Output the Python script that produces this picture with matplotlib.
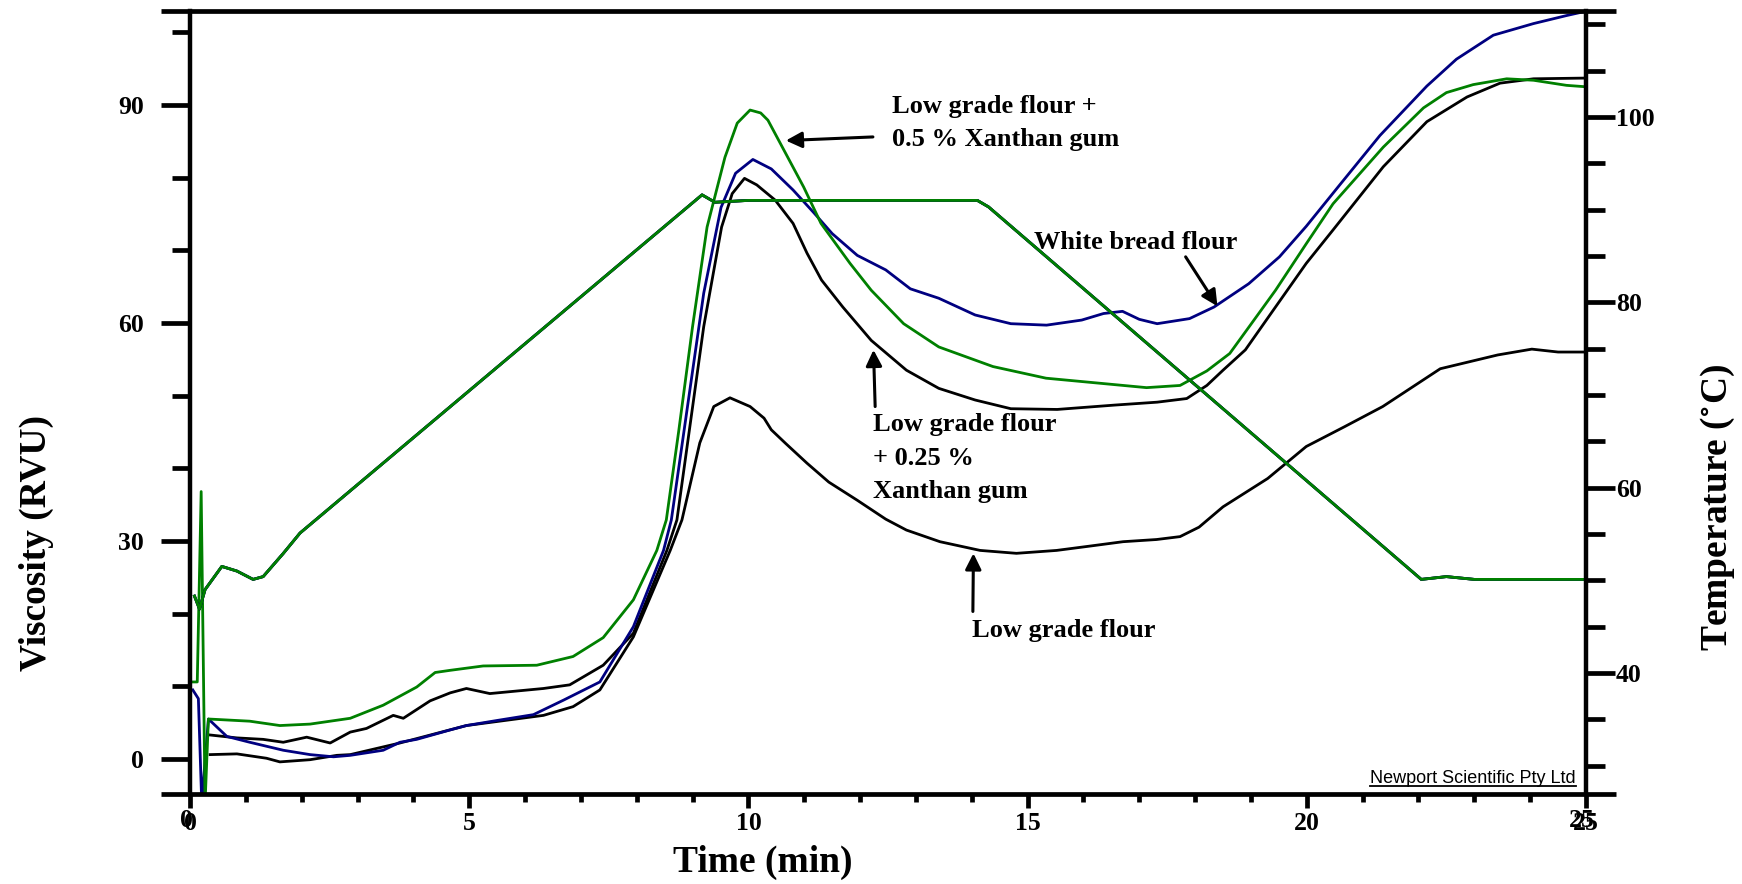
import numpy as np
import matplotlib.pyplot as plt
from matplotlib.ticker import MultipleLocator, FixedLocator
from matplotlib.lines import Line2D
import matplotlib.transforms as mtransforms

plt.rcParams['font.family'] = ['Liberation Serif', 'DejaVu Serif']
plt.rcParams['font.weight'] = 'bold'
plt.rcParams['mathtext.fontset'] = 'stix'

NAVY = '#000080'
GREEN = '#008000'

# --- viscosity (RVU) readings ---
t_white = [0.05, 0.15, 0.21, 0.33, 0.66, 1.07, 1.67, 2.15, 2.57, 2.87, 3.46, 3.76, 4.06, 4.66,
           4.95, 5.5, 6.15, 6.69, 7.34, 7.94, 8.48, 8.62, 8.9, 9.2, 9.51, 9.77, 10.08, 10.41,
           10.8, 11.18, 11.5, 11.95, 12.46, 12.9, 13.41, 14.06, 14.7, 15.34, 15.97, 16.36,
           16.7, 17.0, 17.32, 17.9, 18.34, 18.96, 19.51, 19.99, 20.59, 21.31, 22.15, 22.68,
           23.34, 24.06, 24.65, 25.0]
v_white = [9.5, 8.3, -6, 5.5, 3.1, 2.3, 1.2, 0.6, 0.3, 0.5, 1.2, 2.3, 2.7, 4.0,
           4.6, 5.3, 6.1, 8.1, 10.6, 18.2, 28.7, 32.9, 48.0, 64.1, 75.9, 80.6, 82.5, 81.2,
           78.3, 75.1, 72.3, 69.3, 67.3, 64.7, 63.4, 61.1, 59.9, 59.7, 60.4, 61.3,
           61.6, 60.5, 59.9, 60.6, 62.2, 65.4, 69.1, 73.3, 79.0, 85.8, 92.6, 96.3,
           99.6, 101.2, 102.3, 102.9]

t_xg05 = [0.05, 0.13, 0.2, 0.27, 0.33, 1.07, 1.61, 2.15, 2.87, 3.46, 4.06, 4.39, 4.66, 5.25,
          6.21, 6.86, 7.4, 7.94, 8.36, 8.53, 8.75, 9.0, 9.26, 9.58, 9.8, 10.03, 10.22, 10.35,
          10.67, 10.99, 11.3, 11.82, 12.2, 12.78, 13.41, 14.38, 15.33, 16.3, 17.13, 17.73,
          18.21, 18.62, 18.96, 19.44, 19.99, 20.47, 21.37, 22.09, 22.5, 22.98, 23.58, 24.06,
          24.65, 25.0]
v_xg05 = [10.6, 10.6, 36.8, -6, 5.5, 5.2, 4.6, 4.8, 5.6, 7.4, 9.9, 11.9, 12.2, 12.8,
          12.9, 14.1, 16.7, 21.9, 28.7, 32.9, 45.0, 59.5, 73.2, 82.8, 87.5, 89.3, 88.9, 87.9,
          83.3, 78.7, 73.7, 68.2, 64.5, 59.9, 56.7, 54.0, 52.4, 51.7, 51.1, 51.4,
          53.4, 55.8, 59.4, 64.5, 70.9, 76.4, 84.2, 89.6, 91.7, 92.8, 93.6, 93.4,
          92.7, 92.5]

t_xg025 = [0.36, 0.84, 1.31, 1.67, 2.09, 2.51, 2.87, 3.16, 3.64, 3.82, 4.3, 4.66, 4.95, 5.37,
           6.33, 6.8, 7.4, 7.94, 8.54, 8.72, 9.2, 9.52, 9.71, 9.93, 10.15, 10.48, 10.8, 11.05,
           11.31, 11.69, 12.2, 12.83, 13.41, 14.06, 14.7, 15.53, 16.56, 17.32, 17.85, 18.21,
           18.5, 18.9, 19.44, 19.99, 20.47, 21.37, 22.15, 22.87, 23.46, 24.06, 25.0]
v_xg025 = [3.3, 2.9, 2.7, 2.3, 3.0, 2.2, 3.7, 4.2, 6.0, 5.6, 8.0, 9.1, 9.7, 9.0,
           9.7, 10.2, 12.9, 17.3, 28.7, 32.9, 59.5, 73.2, 77.8, 79.9, 79.0, 76.9, 73.7, 69.6,
           65.9, 62.2, 57.6, 53.5, 51.0, 49.4, 48.2, 48.1, 48.7, 49.1, 49.6, 51.4,
           53.5, 56.3, 62.2, 68.2, 72.8, 81.5, 87.7, 91.1, 93.0, 93.6, 93.7]

t_low = [0.36, 0.84, 1.37, 1.61, 2.15, 2.63, 2.87, 3.76, 4.95, 6.33, 6.86, 7.34, 7.94, 8.6,
         8.81, 9.13, 9.38, 9.67, 10.03, 10.28, 10.41, 10.67, 11.05, 11.44, 11.95, 12.46, 12.83,
         13.43, 14.15, 14.8, 15.52, 16.12, 16.71, 17.31, 17.73, 18.07, 18.5, 19.3, 19.99,
         20.67, 21.36, 22.39, 23.42, 24.03, 24.5, 25.0]
v_low = [0.6, 0.7, 0.1, -0.4, -0.1, 0.5, 0.6, 2.2, 4.6, 6.0, 7.2, 9.5, 16.8, 28.7,
         32.9, 43.5, 48.5, 49.7, 48.5, 46.9, 45.3, 43.4, 40.7, 38.1, 35.6, 33.0, 31.5,
         29.9, 28.7, 28.3, 28.7, 29.3, 29.9, 30.2, 30.6, 31.9, 34.7, 38.6, 43.0,
         45.7, 48.5, 53.7, 55.6, 56.4, 56.0, 56.0]

# --- temperature profile (deg C) ---
t_temp = [0.08, 0.17, 0.27, 0.57, 0.84, 1.13, 1.31, 1.67, 1.97, 9.17, 9.4, 9.7, 10.0,
          14.1, 14.3, 22.05, 22.5, 23.0, 25.0]
v_temp = [48.3, 46.9, 49.0, 51.5, 51.0, 50.1, 50.4, 52.9, 55.1, 91.6, 90.8, 90.9, 91.0,
          91.0, 90.3, 50.1, 50.4, 50.1, 50.1]

rvu_ticks = [0, 30, 60, 90]
temp_ticks = [40, 60, 80, 100]
time_ticks = [0, 5, 10, 15, 20, 25]

fig = plt.figure(figsize=(17.42, 8.84), dpi=100)
ax = fig.add_axes([190/1742, 1 - 794/884, 1396/1742, 783/884])
ax2 = ax.twinx()

ax.plot(t_low, v_low, color='k', lw=2.0)
ax.plot(t_xg025, v_xg025, color='k', lw=2.0)
ax.plot(t_white, v_white, color=NAVY, lw=2.0)
ax.plot(t_xg05, v_xg05, color=GREEN, lw=2.0)

for c in ['k', NAVY, GREEN]:
    ax2.plot(t_temp, v_temp, color=c, lw=2.0)

ax.set_xlim(0, 25)
ax.set_ylim(-4.82, 102.93)
ax2.set_ylim(26.94, 111.44)

for s in ['top', 'bottom', 'right']:
    ax.spines[s].set_visible(False)
for s in ['top', 'bottom', 'left']:
    ax2.spines[s].set_visible(False)
ax.spines['left'].set_linewidth(3.2)
ax2.spines['right'].set_linewidth(3.2)

# top / bottom frame lines run past the side axes
for yy in (0, 1):
    ax.add_line(Line2D([-29/1396, 1 + 30/1396], [yy, yy], transform=ax.transAxes,
                       clip_on=False, lw=3.4, color='k', solid_capstyle='butt'))

ax.xaxis.set_major_locator(FixedLocator(time_ticks))
ax.xaxis.set_minor_locator(MultipleLocator(1))
ax.yaxis.set_major_locator(FixedLocator(rvu_ticks))
ax.yaxis.set_minor_locator(MultipleLocator(10))
ax2.yaxis.set_major_locator(FixedLocator(temp_ticks))
ax2.yaxis.set_minor_locator(MultipleLocator(5))

ax.tick_params(axis='y', which='major', direction='out', length=21, width=3.4, pad=12, labelsize=18.5)
ax.tick_params(axis='y', which='minor', direction='out', length=13, width=3.4)
ax.tick_params(axis='x', which='major', direction='out', length=10, width=3.4, pad=3, labelsize=18.5)
ax.tick_params(axis='x', which='minor', direction='out', length=6, width=3.4)
ax2.tick_params(axis='y', which='major', direction='out', length=21, width=3.4, pad=0.5, labelsize=18.5)
ax2.tick_params(axis='y', which='minor', direction='out', length=13.5, width=3.4)

# end labels of the time axis are printed twice, slightly shifted
off = ax.get_xaxis_transform() + mtransforms.ScaledTranslation(-0.04, -13/72 + 0.03, fig.dpi_scale_trans)
for tt in (0, 25):
    ax.text(tt, 0, str(tt), transform=off, ha='center', va='top', fontsize=18.5)

fig.text(36/1742, 1 - 543/884, 'Viscosity (RVU)', rotation=90, ha='center', va='center', fontsize=27)
fig.text(1718/1742, 1 - 507/884, r'Temperature ($^{\circ}$C)', rotation=90, ha='center', va='center', fontsize=27)
fig.text(763/1742, 1 - 862/884, 'Time (min)', ha='center', va='center', fontsize=27)

arrow = dict(arrowstyle='-|>', color='k', lw=2.2, mutation_scale=24, shrinkA=0, shrinkB=0)

ax.text(12.57, 87.5, 'Low grade flour +\n0.5 % Xanthan gum', ha='left', va='center', fontsize=19, linespacing=1.57)
ax.annotate('', xy=(10.67, 85.1), xytext=(12.23, 85.6), arrowprops=arrow)

ax.text(15.11, 71.1, 'White bread flour', ha='left', va='center', fontsize=19)
ax.annotate('', xy=(18.4, 62.3), xytext=(17.83, 69.1), arrowprops=arrow)

ax.text(12.23, 41.4, 'Low grade flour\n+ 0.25 %\nXanthan gum', ha='left', va='center', fontsize=19, linespacing=1.57)
ax.annotate('', xy=(12.24, 56.3), xytext=(12.27, 48.5), arrowprops=arrow)

ax.text(14.0, 17.7, 'Low grade flour', ha='left', va='center', fontsize=19)
ax.annotate('', xy=(14.03, 28.3), xytext=(14.02, 20.3), arrowprops=arrow)

nt = ax.text(0.9928, 0.014, 'Newport Scientific Pty Ltd', transform=ax.transAxes, ha='right',
             va='baseline', fontsize=13, family='Liberation Sans', weight='normal')
fig.canvas.draw()
bb = nt.get_window_extent().transformed(ax.transAxes.inverted())
ax.add_line(Line2D([bb.x0, bb.x1], [0.0102, 0.0102], transform=ax.transAxes, lw=1.3, color='k'))

fig.savefig('out.png', dpi=100)
